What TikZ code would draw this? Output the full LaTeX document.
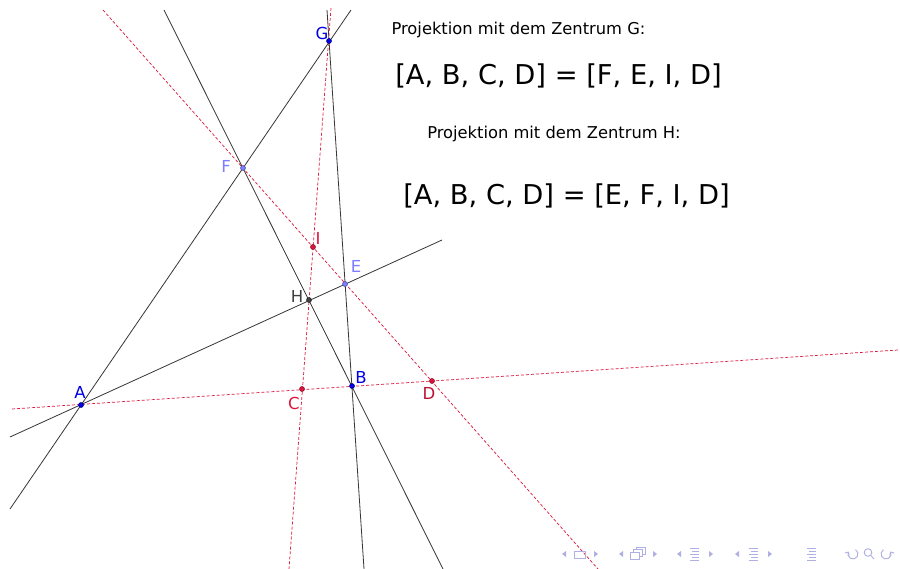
\documentclass[tikz,border=0pt]{standalone}
\usepackage{fontspec}
\setmainfont{DejaVu Sans}
\usepackage{xcolor}
\usetikzlibrary{arrows.meta}
\definecolor{ptblue}{RGB}{0,0,230}
\definecolor{ptlila}{RGB}{125,125,255}
\definecolor{ptgrau}{RGB}{64,64,64}
\definecolor{ptrot}{RGB}{220,20,60}
\definecolor{navc}{RGB}{175,175,228}

\begin{document}
\begin{tikzpicture}[x=1pt,y=-1pt,
  gerade/.style={ptgrau!85!black,line width=0.8pt},
  strahl/.style={ptrot,line width=0.7pt,dash pattern=on 3pt off 2pt},
  punkt/.style={circle,inner sep=0pt,minimum size=5pt,fill=#1,draw=#1!60!black,line width=0.5pt},
  lab/.style={font=\fontsize{16.5}{18}\selectfont,text=#1}]
\useasboundingbox[fill=white] (0,0) rectangle (900,569);

% end points of the lines
\coordinate (ag1) at (10,509);   \coordinate (ag2) at (351,10);
\coordinate (fb1) at (164,10);   \coordinate (fb2) at (443,569);
\coordinate (gb1) at (327,10);   \coordinate (gb2) at (364,569);
\coordinate (ae1) at (10,437);   \coordinate (ae2) at (442,240);
\coordinate (ad1) at (12,409);   \coordinate (ad2) at (898,350);
\coordinate (gc1) at (331,8);    \coordinate (gc2) at (289,569);
\coordinate (fd1) at (103,10);   \coordinate (fd2) at (598,569);

\draw[gerade] (ag1) -- (ag2);
\draw[gerade] (fb1) -- (fb2);
\draw[gerade] (gb1) -- (gb2);
\draw[gerade] (ae1) -- (ae2);
\draw[strahl] (ad1) -- (ad2);
\draw[strahl] (gc1) -- (gc2);
\draw[strahl] (fd1) -- (fd2);

% points
\node[punkt=ptblue] (G) at (329,41) {};
\node[punkt=ptlila] (F) at (243,168) {};
\node[punkt=ptrot] (I) at (313,247) {};
\node[punkt=ptlila] (E) at (345,284) {};
\node[punkt=ptgrau] (H) at (309,300) {};
\node[punkt=ptblue] (A) at (81,405) {};
\node[punkt=ptrot] (C) at (302,389) {};
\node[punkt=ptblue] (B) at (352,386) {};
\node[punkt=ptrot] (D) at (432,381) {};

\node[lab=ptblue] (lG) at (322,33) {G};
\node[lab=ptlila] (lF) at (226,166) {F};
\node[lab=ptrot] (lI) at (318,238) {I};
\node[lab=ptlila] (lE) at (356,266) {E};
\node[lab=ptgrau] (lH) at (297,296) {H};
\node[lab=ptblue] (lA) at (80,392) {A};
\node[lab=ptblue] (lB) at (361,377) {B};
\node[lab=ptrot] (lC) at (294,403) {C};
\node[lab=ptrot!85!black] (lD) at (429,393) {D};

% texts
\node[font=\fontsize{16.3}{20}\selectfont] (tG) at (518.5,30) {Projektion mit dem Zentrum G:};
\node[font=\fontsize{27.3}{32}\selectfont] (dG) at (558.5,76) {[A, B, C, D] = [F, E, I, D]};
\node[font=\fontsize{16.3}{20}\selectfont] (tH) at (554,134) {Projektion mit dem Zentrum H:};
\node[font=\fontsize{27.3}{32}\selectfont] (dH) at (566.5,196) {[A, B, C, D] = [E, F, I, D]};

% navigation symbols
\begin{scope}[navc,line width=0.9pt]
\foreach \x in {562,619,677,735} \fill (\x,554) -- ++(4,-3) -- ++(0,6) -- cycle;
\foreach \x in {598,657,713,772} \fill (\x,554) -- ++(-4,-3) -- ++(0,6) -- cycle;
\draw (574,551) rectangle (585,558);
\draw (630,552) rectangle (639,559);
\draw (633,549) -- (642,549) -- (642,556) -- (639,556);
\draw (633,549) -- (633,552);
\draw (636,547) -- (645,547) -- (645,554) -- (642,554);
\draw (636,547) -- (636,549);
\foreach \x in {690,749,807} {
  \draw (\x,548) -- ++(9,0);
  \draw (\x+2,551) -- ++(7,0);
  \draw (\x,554) -- ++(9,0);
  \draw (\x+2,557) -- ++(7,0);
  \draw (\x,560) -- ++(9,0);
}
\draw[{Straight Barb[length=2.5pt,width=5pt]}-] (853,554) ++(-150:5) arc (-150:-420:5);
\draw (868,552.5) circle (3.8);
\draw (870.8,555.5) -- (874,559);
\draw[{Straight Barb[length=2.5pt,width=5pt]}-] (886,554) ++(-30:5) arc (-30:240:5);
\end{scope}
\end{tikzpicture}
\end{document}
